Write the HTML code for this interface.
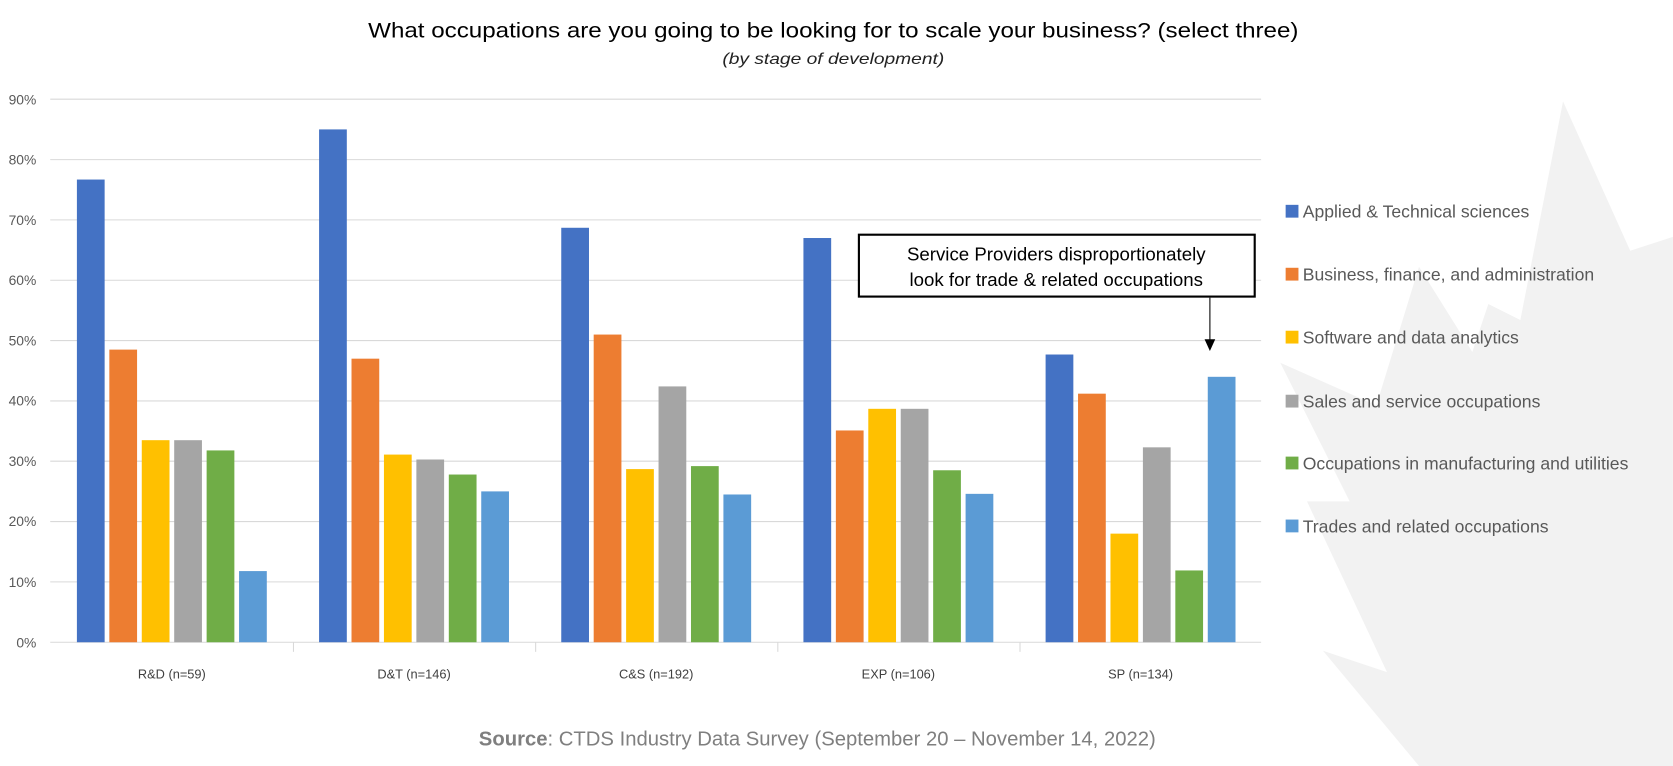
<!DOCTYPE html>
<html><head><meta charset="utf-8"><style>
html,body{margin:0;padding:0;background:#fff;}
svg{display:block;}
</style></head><body>
<svg width="1673" height="766" viewBox="0 0 1568 718" xmlns="http://www.w3.org/2000/svg" font-family="Liberation Sans, sans-serif">
<rect width="1568" height="718" fill="#fff"/>
<polygon points="1465,95 1528,235 1568,222 1568,718 1330,718 1240,610 1300,630 1225,470 1265,470 1200,340 1290,380 1330,250 1380,330 1395,285 1425,300" fill="#f2f2f2"/>
<text x="781" y="35" text-anchor="middle" font-size="20" fill="#000" textLength="872" lengthAdjust="spacingAndGlyphs">What occupations are you going to be looking for to scale your business? (select three)</text>
<text x="781" y="60" text-anchor="middle" font-size="15" font-style="italic" fill="#222" textLength="208" lengthAdjust="spacingAndGlyphs">(by stage of development)</text>
<g stroke="#d9d9d9" stroke-width="1">
<line x1="47" x2="1182" y1="93" y2="93"/><line x1="47" x2="1182" y1="149.6" y2="149.6"/><line x1="47" x2="1182" y1="206.1" y2="206.1"/><line x1="47" x2="1182" y1="262.7" y2="262.7"/><line x1="47" x2="1182" y1="319.2" y2="319.2"/><line x1="47" x2="1182" y1="375.8" y2="375.8"/><line x1="47" x2="1182" y1="432.3" y2="432.3"/><line x1="47" x2="1182" y1="488.9" y2="488.9"/><line x1="47" x2="1182" y1="545.4" y2="545.4"/><line x1="47" x2="1182" y1="602" y2="602"/>
<line x1="275" x2="275" y1="602" y2="611"/><line x1="502" x2="502" y1="602" y2="611"/><line x1="729" x2="729" y1="602" y2="611"/><line x1="956" x2="956" y1="602" y2="611"/>
</g>
<g font-size="13" fill="#595959" text-anchor="end">
<text x="34" y="98">90%</text><text x="34" y="154">80%</text><text x="34" y="211">70%</text><text x="34" y="267">60%</text><text x="34" y="324">50%</text><text x="34" y="380">40%</text><text x="34" y="437">30%</text><text x="34" y="493">20%</text><text x="34" y="550">10%</text><text x="34" y="607">0%</text>
</g>
<g>
<rect x="72" y="168.3" width="26" height="433.7" fill="#4472c4"/>
<rect x="102.4" y="327.7" width="26" height="274.3" fill="#ed7d31"/>
<rect x="132.8" y="412.6" width="26" height="189.4" fill="#ffc000"/>
<rect x="163.2" y="412.6" width="26" height="189.4" fill="#a5a5a5"/>
<rect x="193.6" y="422.2" width="26" height="179.8" fill="#70ad47"/>
<rect x="224" y="535.3" width="26" height="66.7" fill="#5b9bd5"/>

<rect x="299" y="121.3" width="26" height="480.7" fill="#4472c4"/>
<rect x="329.4" y="336.2" width="26" height="265.8" fill="#ed7d31"/>
<rect x="359.8" y="426.1" width="26" height="175.9" fill="#ffc000"/>
<rect x="390.2" y="430.7" width="26" height="171.3" fill="#a5a5a5"/>
<rect x="420.6" y="444.8" width="26" height="157.2" fill="#70ad47"/>
<rect x="451" y="460.6" width="26" height="141.4" fill="#5b9bd5"/>

<rect x="526" y="213.5" width="26" height="388.5" fill="#4472c4"/>
<rect x="556.4" y="313.6" width="26" height="288.4" fill="#ed7d31"/>
<rect x="586.8" y="439.7" width="26" height="162.3" fill="#ffc000"/>
<rect x="617.2" y="362.2" width="26" height="239.8" fill="#a5a5a5"/>
<rect x="647.6" y="436.9" width="26" height="165.1" fill="#70ad47"/>
<rect x="678" y="463.5" width="26" height="138.5" fill="#5b9bd5"/>

<rect x="753" y="223.1" width="26" height="378.9" fill="#4472c4"/>
<rect x="783.4" y="403.5" width="26" height="198.5" fill="#ed7d31"/>
<rect x="813.8" y="383.2" width="26" height="218.8" fill="#ffc000"/>
<rect x="844.2" y="383.2" width="26" height="218.8" fill="#a5a5a5"/>
<rect x="874.6" y="440.8" width="26" height="161.2" fill="#70ad47"/>
<rect x="905" y="462.9" width="26" height="139.1" fill="#5b9bd5"/>

<rect x="980" y="332.3" width="26" height="269.7" fill="#4472c4"/>
<rect x="1010.4" y="369" width="26" height="233" fill="#ed7d31"/>
<rect x="1040.8" y="500.2" width="26" height="101.8" fill="#ffc000"/>
<rect x="1071.2" y="419.3" width="26" height="182.7" fill="#a5a5a5"/>
<rect x="1101.6" y="534.7" width="26" height="67.3" fill="#70ad47"/>
<rect x="1132" y="353.2" width="26" height="248.8" fill="#5b9bd5"/>
</g>
<g font-size="12" fill="#404040" text-anchor="middle">
<text x="161" y="636">R&amp;D (n=59)</text><text x="388" y="636">D&amp;T (n=146)</text><text x="615" y="636">C&amp;S (n=192)</text><text x="842" y="636">EXP (n=106)</text><text x="1069" y="636">SP (n=134)</text>
</g>
<rect x="805" y="220" width="371" height="58" fill="#fff" stroke="#000" stroke-width="2"/>
<text x="990" y="244" text-anchor="middle" font-size="17.5" fill="#000">Service Providers disproportionately</text>
<text x="990" y="268" text-anchor="middle" font-size="17.5" fill="#000">look for trade &amp; related occupations</text>
<line x1="1134" y1="279" x2="1134" y2="320" stroke="#000" stroke-width="1"/>
<polygon points="1129,318 1139,318 1134,329" fill="#000"/>
<g font-size="16.5" fill="#595959">
<rect x="1205" y="192" width="12" height="12" fill="#4472c4"/><text x="1221" y="204">Applied &amp; Technical sciences</text>
<rect x="1205" y="251" width="12" height="12" fill="#ed7d31"/><text x="1221" y="263">Business, finance, and administration</text>
<rect x="1205" y="310" width="12" height="12" fill="#ffc000"/><text x="1221" y="322">Software and data analytics</text>
<rect x="1205" y="370" width="12" height="12" fill="#a5a5a5"/><text x="1221" y="382">Sales and service occupations</text>
<rect x="1205" y="428" width="12" height="12" fill="#70ad47"/><text x="1221" y="440">Occupations in manufacturing and utilities</text>
<rect x="1205" y="487" width="12" height="12" fill="#5b9bd5"/><text x="1221" y="499">Trades and related occupations</text>
</g>
<text x="766" y="699" text-anchor="middle" font-size="19" fill="#7f7f7f"><tspan font-weight="bold">Source</tspan>: CTDS Industry Data Survey (September 20 – November 14, 2022)</text>
</svg>
</body></html>
